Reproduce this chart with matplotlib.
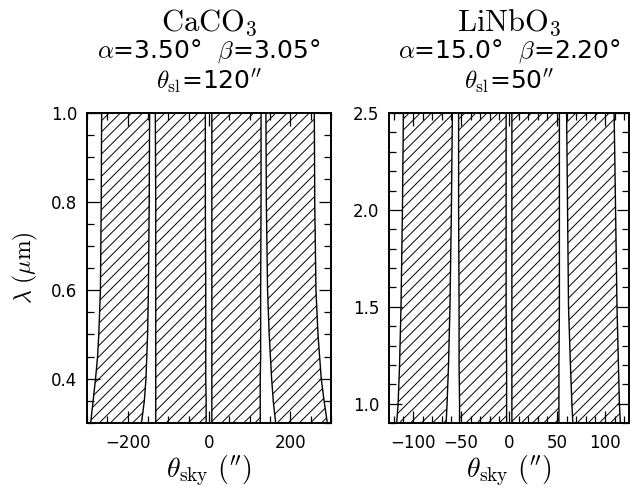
import matplotlib
matplotlib.use("Agg")
from matplotlib import pyplot as plt
from matplotlib.ticker import MultipleLocator, FormatStrFormatter

plt.rcParams['mathtext.fontset'] = 'cm'
plt.rcParams['font.family'] = 'DejaVu Sans'
plt.rcParams['hatch.linewidth'] = 0.7

# CaCO3 panel: band edges (arcsec) against wavelength (micron)
lam_caco3 = [0.30, 0.35, 0.40, 0.45, 0.50, 0.60, 0.80, 1.00]
caco3_b1_lo = [-291, -285, -279, -274, -271, -267, -265, -264]
caco3_b1_hi = [-166, -159, -155, -153, -151, -149, -147, -146]
caco3_b2_lo = [-131, -131, -131, -131, -131, -131, -131, -132]
caco3_b2_hi = [-7, -7, -8, -8, -8, -8, -9, -9]
caco3_b3_lo = [7, 7, 7, 7, 7, 7, 7, 7]
caco3_b3_hi = [126, 126, 126, 127, 127, 127, 128, 128]
caco3_b4_lo = [164, 158, 154, 151, 148, 144, 141, 140]
caco3_b4_hi = [291, 283, 276, 272, 268, 263, 260, 259]

# LiNbO3 panel
lam_linbo3 = [0.90, 1.00, 1.20, 1.50, 2.00, 2.50]
linbo3_b1_lo = [-117, -115.5, -114, -112.5, -111, -110]
linbo3_b1_hi = [-65.5, -64.5, -63, -61.5, -60, -59]
linbo3_b2_lo = [-51.5, -51.5, -52, -52, -52.5, -52.5]
linbo3_b2_hi = [-2.5, -2.5, -2.5, -3, -3, -3]
linbo3_b3_lo = [3, 3, 3, 3, 3, 3]
linbo3_b3_hi = [52, 52, 52, 52.5, 52.5, 52.5]
linbo3_b4_lo = [66.5, 65.5, 64, 62, 61, 60]
linbo3_b4_hi = [116, 115, 114, 112.5, 111, 109.5]

fig = plt.figure(figsize=(6.31, 4.91), dpi=100)
ax1 = fig.add_axes([87/631, 1-423/491, 244/631, 310/491])
ax2 = fig.add_axes([389/631, 1-423/491, 240/631, 310/491])


def draw_bands(ax, lam, bands):
    for lo, hi in bands:
        ax.fill_betweenx(lam, lo, hi, facecolor='white', edgecolor='black',
                         hatch='///', linewidth=1.0)


def style(ax, xmaj, xmin, ymaj, ymin):
    ax.xaxis.set_major_locator(MultipleLocator(xmaj))
    ax.xaxis.set_minor_locator(MultipleLocator(xmin))
    ax.yaxis.set_major_locator(MultipleLocator(ymaj))
    ax.yaxis.set_minor_locator(MultipleLocator(ymin))
    ax.yaxis.set_major_formatter(FormatStrFormatter('%.1f'))
    ax.tick_params(which='both', direction='in', top=True, right=True,
                   width=0.9, labelsize=12)
    ax.tick_params(axis='x', pad=8)
    ax.tick_params(axis='y', pad=7)
    ax.tick_params(which='major', length=9)
    ax.tick_params(which='minor', length=5)
    for s in ax.spines.values():
        s.set_linewidth(1.4)
        s.set_zorder(5)
    ax.set_axisbelow(False)


draw_bands(ax1, lam_caco3, [(caco3_b1_lo, caco3_b1_hi), (caco3_b2_lo, caco3_b2_hi),
                            (caco3_b3_lo, caco3_b3_hi), (caco3_b4_lo, caco3_b4_hi)])
ax1.set_xlim(-300, 300)
ax1.set_ylim(0.3, 1.0)
style(ax1, 200, 50, 0.2, 0.05)

draw_bands(ax2, lam_linbo3, [(linbo3_b1_lo, linbo3_b1_hi), (linbo3_b2_lo, linbo3_b2_hi),
                             (linbo3_b3_lo, linbo3_b3_hi), (linbo3_b4_lo, linbo3_b4_hi)])
ax2.set_xlim(-125, 125)
ax2.set_ylim(0.9, 2.5)
style(ax2, 50, 10, 0.5, 0.1)

ax1.set_ylabel(r'$\lambda\ (\mu{\rm m})$', fontsize=17, labelpad=8)
for ax in (ax1, ax2):
    ax.set_xlabel(r'$\theta_{\rm sky}\ (^{\prime\prime})$', fontsize=20, labelpad=1)

# titles
titles = [(r'$\mathrm{CaCO_3}$', r'$\alpha$=3.50°  $\beta$=3.05°', r'$\theta_{\rm sl}$=120$^{\prime\prime}$'),
          (r'$\mathrm{LiNbO_3}$', r'$\alpha$=15.0°  $\beta$=2.20°', r'$\theta_{\rm sl}$=50$^{\prime\prime}$')]
for ax, (t1, t2, t3) in zip((ax1, ax2), titles):
    ax.text(0.5, 1.0 + 82/310, t1, transform=ax.transAxes, ha='center', va='baseline', fontsize=22)
    ax.text(0.5, 1.0 + 55/310, t2, transform=ax.transAxes, ha='center', va='baseline', fontsize=18)
    ax.text(0.5, 1.0 + 23/310, t3, transform=ax.transAxes, ha='center', va='baseline', fontsize=18)

fig.savefig('out.png', dpi=100)
